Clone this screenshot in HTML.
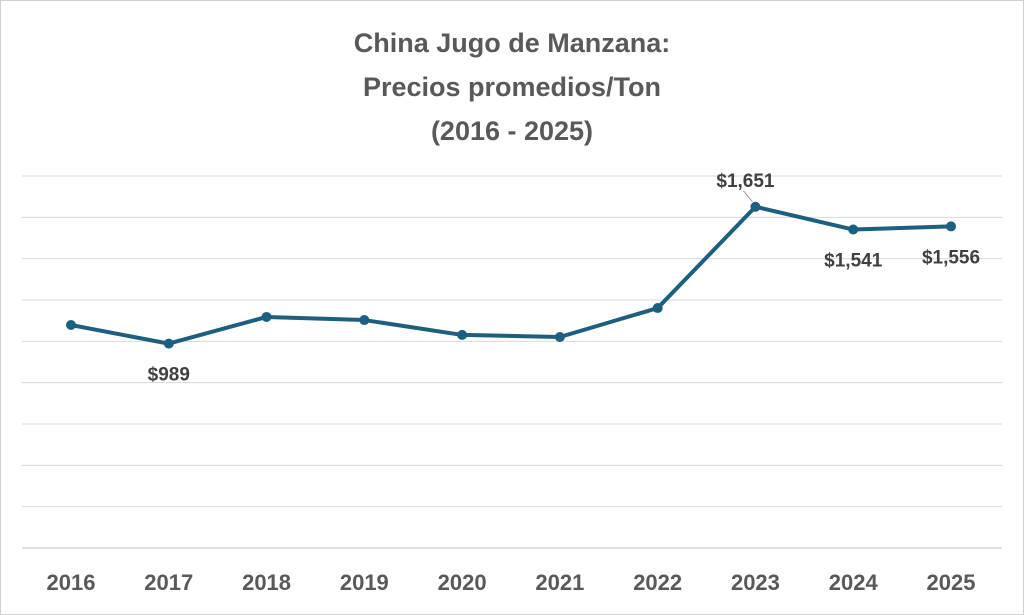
<!DOCTYPE html>
<html><head><meta charset="utf-8"><style>
body{margin:0;background:#fff;}
svg{display:block;font-family:"Liberation Sans",sans-serif;}
</style></head><body>
<svg width="1024" height="615">
<rect x="0.5" y="0.5" width="1023" height="614" fill="#fff" stroke="#d0d0d0"/>
<g id="title" fill="#595959" font-size="27" font-weight="bold" text-anchor="middle">
<text x="512" y="52">China Jugo de Manzana:</text>
<text x="512" y="96">Precios promedios/Ton</text>
<text x="512" y="140">(2016 - 2025)</text>
</g>
<g id="grid"></g>
<g id="xlabels"></g>
<g id="series"></g>
</svg>
<script>
const years=["2016","2017","2018","2019","2020","2021","2022","2023","2024","2025"];
const prices=[1079,989,1118,1103,1031,1021,1161,1651,1541,1556];
const labelled=[1,7,8,9];
const yTicks=[0,200,400,600,800,1000,1200,1400,1600,1800];
const NS="http://www.w3.org/2000/svg";
const x=i=>71+i*(951-71)/(years.length-1);
const y=v=>548-v/1800*372;
function mk(t,a,p){const e=document.createElementNS(NS,t);for(const k in a)e.setAttribute(k,a[k]);p.appendChild(e);return e;}
const g=document.getElementById('grid');
yTicks.forEach(t=>{const l=mk('line',{x1:22,x2:1002,y1:y(t),y2:y(t),stroke:t===0?'#bfbfbf':'#d9d9d9','stroke-width':1},g);

});
const xl=document.getElementById('xlabels');
years.forEach((yr,i)=>{const t=mk('text',{x:x(i),y:590,'text-anchor':'middle','font-size':22,'font-weight':'bold',fill:'#595959'},xl);t.textContent=yr;

});
const s=document.getElementById('series');
const pl=mk('polyline',{points:prices.map((v,i)=>x(i)+','+y(v)).join(' '),fill:'none',stroke:'#1d5f7e','stroke-width':4,'stroke-linejoin':'round'},s);


prices.forEach((v,i)=>{const c=mk('circle',{cx:x(i),cy:y(v),r:5,fill:'#1d5f7e'},s);

});
labelled.forEach(i=>{const v=prices[i];const above=i===7;
const t=mk('text',{x:x(i)+(above?-10:0),y:above?y(v)-20:y(v)+37,'text-anchor':'middle','font-size':19,'font-weight':'bold',fill:'#404040'},s);
t.textContent='$'+v.toLocaleString('en-US');


if(above){const l=mk('line',{x1:x(i)-12,y1:y(v)-16,x2:x(i)-3,y2:y(v)-5,stroke:'#999','stroke-width':1},s);

}
});
</script>
</body></html>
